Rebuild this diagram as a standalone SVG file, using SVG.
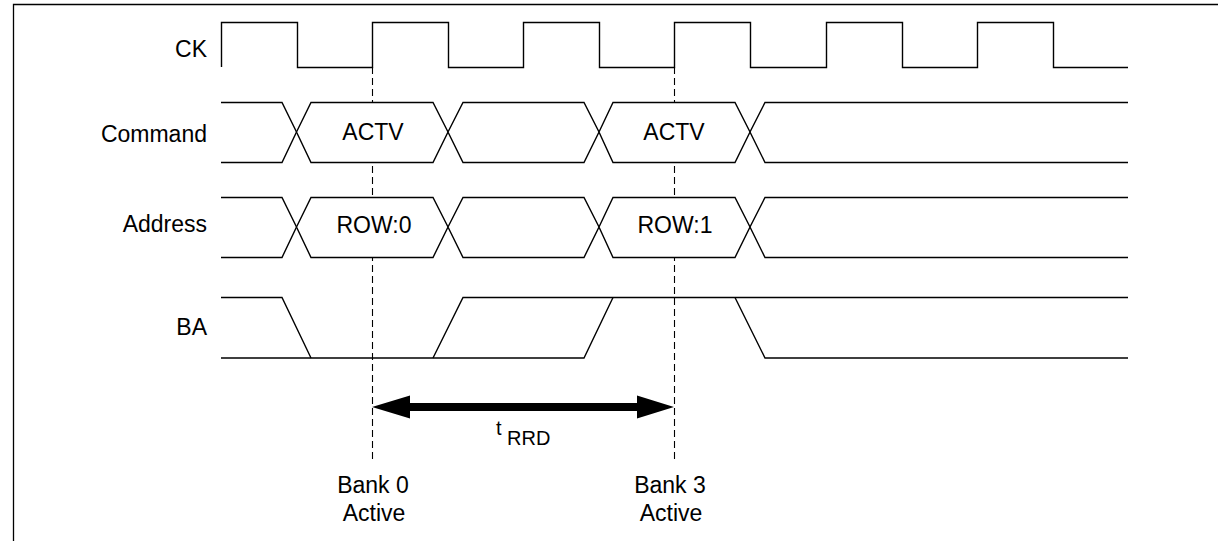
<svg xmlns="http://www.w3.org/2000/svg" width="1218" height="541" viewBox="0 0 1218 541">
<style>
.sig{fill:none;stroke:#000;stroke-width:1.4;stroke-linejoin:miter}
.box{fill:#fff;stroke:#000;stroke-width:1.4}
.dash{fill:none;stroke:#000;stroke-width:1.1;stroke-dasharray:7 4}
.lbl{font-family:"Liberation Sans",Arial,sans-serif;font-size:23px;fill:#000}
.sub{font-family:"Liberation Sans",Arial,sans-serif;font-size:20px;fill:#000}
</style>
<rect width="1218" height="541" fill="#fff"/>
<path d="M13.5,541 V4.5 H1218" fill="none" stroke="#000" stroke-width="1.3"/>

<g id="connectors">
  <line class="dash" x1="372.5" y1="67" x2="372.5" y2="461"/>
  <line class="dash" x1="674.5" y1="67" x2="674.5" y2="461"/>
  <polygon id="trrd-arrow" points="372,407 410,395.5 410,403 637,403 637,395.5 674,407 637,418.5 637,411 410,411 410,418.5" fill="#000"/>
</g>

<g id="ck">
  <text class="lbl" x="207" y="57" text-anchor="end">CK</text>
  <path class="sig" d="M221.5,67 V22.5 H297.5 V67.5 H372.5 V22.5 H448.5 V67.5 H523.5 V22.5 H599.5 V67.5 H674.5 V22.5 H750.5 V67.5 H826.5 V22.5 H902.5 V67.5 H977.5 V22.5 H1053.5 V67.5 H1128"/>
</g>

<g id="command">
  <text class="lbl" x="207" y="142" text-anchor="end">Command</text>
  <path class="sig" d="M221,102.5 H282 L296.5,132 L282,162.5 H221"/>
  <path class="box" d="M296.5,132 L311,102.5 H433 L448,132 L433,162.5 H311 Z"/>
  <path class="box" d="M448,132 L463,102.5 H584 L599,132 L584,162.5 H463 Z"/>
  <path class="box" d="M599,132 L613,102.5 H735 L750,132 L735,162.5 H613 Z"/>
  <path class="sig" d="M1128,102.5 H765 L750,132 L765,162.5 H1128"/>
  <text class="lbl" x="373" y="140" text-anchor="middle">ACTV</text>
  <text class="lbl" x="674" y="140" text-anchor="middle">ACTV</text>
</g>

<g id="address">
  <text class="lbl" x="207" y="232" text-anchor="end">Address</text>
  <path class="sig" d="M221,197.5 H282 L296.5,227 L282,257.5 H221"/>
  <path class="box" d="M296.5,227 L311,197.5 H433 L448,227 L433,257.5 H311 Z"/>
  <path class="box" d="M448,227 L463,197.5 H584 L599,227 L584,257.5 H463 Z"/>
  <path class="box" d="M599,227 L613,197.5 H735 L750,227 L735,257.5 H613 Z"/>
  <path class="sig" d="M1128,197.5 H765 L750,227 L765,257.5 H1128"/>
  <text class="lbl" x="374" y="233" text-anchor="middle">ROW:0</text>
  <text class="lbl" x="675" y="233" text-anchor="middle">ROW:1</text>
</g>

<g id="ba">
  <text class="lbl" x="207" y="335" text-anchor="end">BA</text>
  <path class="sig" d="M221,297.5 H282 L311,358"/>
  <path class="sig" d="M221,358 H584 L613,297.5"/>
  <path class="sig" d="M433,358 L463,297.5 H1128"/>
  <path class="sig" d="M735,297.5 L765,358 H1128"/>
</g>

<g id="trrd">
  <text class="sub" x="496" y="435">t</text>
  <text class="sub" x="507" y="445">RRD</text>
</g>

<g id="bank0">
  <text class="lbl" x="373" y="493" text-anchor="middle">Bank 0</text>
  <text class="lbl" x="374" y="521" text-anchor="middle">Active</text>
</g>

<g id="bank3">
  <text class="lbl" x="670" y="493" text-anchor="middle">Bank 3</text>
  <text class="lbl" x="671" y="521" text-anchor="middle">Active</text>
</g>
</svg>
